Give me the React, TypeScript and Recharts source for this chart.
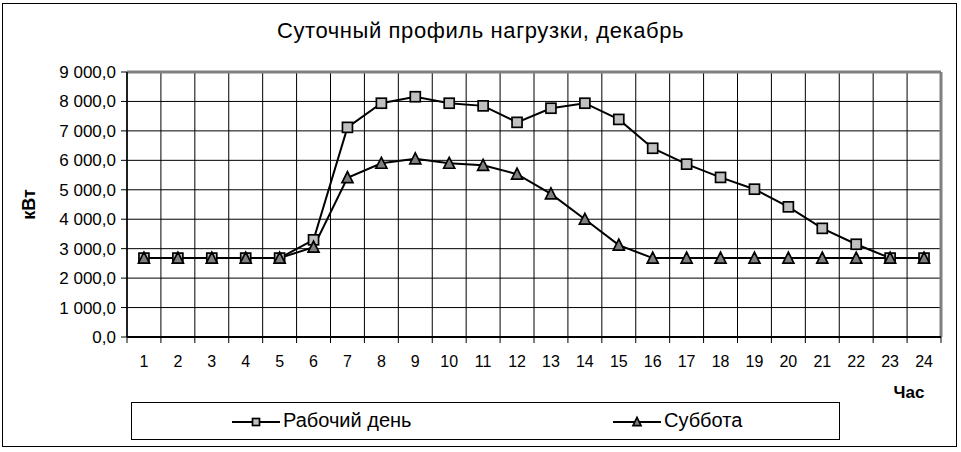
import React from "react";
import {
  LineChart,
  Line,
  XAxis,
  YAxis,
  CartesianGrid,
  ReferenceLine,
} from "recharts";

// Часы суток
const hours = [1, 2, 3, 4, 5, 6, 7, 8, 9, 10, 11, 12, 13, 14, 15, 16, 17, 18, 19, 20, 21, 22, 23, 24];

// Рабочий день, кВт
const workday = [
  2680, 2680, 2680, 2680, 2680, 3300, 7120, 7940, 8160, 7940, 7850, 7290,
  7770, 7940, 7390, 6410, 5870, 5420, 5020, 4420, 3690, 3150, 2680, 2680,
];

// Суббота, кВт
const saturday = [
  2680, 2680, 2680, 2680, 2680, 3050, 5410, 5900, 6050, 5900, 5830, 5530,
  4860, 4000, 3120, 2680, 2680, 2680, 2680, 2680, 2680, 2680, 2680, 2680,
];

const yTicks = [0, 1000, 2000, 3000, 4000, 5000, 6000, 7000, 8000, 9000];
// границы часовых интервалов (сетка и засечки)
const hourBounds = [...hours.map((h) => h - 0.5), hours[hours.length - 1] + 0.5];

const data = hours.map((h, i) => ({ hour: h, work: workday[i], sat: saturday[i] }));

const FONT = "'Liberation Sans', Arial, sans-serif";

const fmt = (v: number) => {
  const s = String(Math.round(v));
  return s.replace(/\B(?=(\d{3})+(?!\d))/g, " ") + ",0";
};

const SquareDot = (props: any) => {
  const { cx, cy, size = 10 } = props;
  if (cx == null || cy == null) return null;
  return (
    <rect
      x={cx - size / 2}
      y={cy - size / 2}
      width={size}
      height={size}
      fill="#c0c0c0"
      stroke="#000"
      strokeWidth={1.7}
    />
  );
};

const TriangleDot = (props: any) => {
  const { cx, cy, size = 11 } = props;
  if (cx == null || cy == null) return null;
  const h = size * 0.9;
  return (
    <polygon
      points={`${cx},${cy - h / 2 - 1} ${cx - size / 2},${cy + h / 2} ${cx + size / 2},${cy + h / 2}`}
      fill="#808080"
      stroke="#000"
      strokeWidth={1.7}
    />
  );
};

const LegendItem = ({ kind, label, left }: { kind: "sq" | "tri"; label: string; left: number }) => (
  <div style={{ position: "absolute", left, top: 6, display: "flex", alignItems: "center" }}>
    <svg width={50} height={22}>
      <line x1={0} y1={12} x2={48} y2={12} stroke="#000" strokeWidth={2} />
      {kind === "sq" ? (
        <SquareDot cx={24} cy={12} size={7} />
      ) : (
        <TriangleDot cx={24} cy={12} size={8} />
      )}
    </svg>
    <span style={{ fontSize: 20, fontFamily: FONT, marginLeft: 1 }}>{label}</span>
  </div>
);

// вертикальные линии сетки по границам часов
const gridVerticals = ({ offset }: any) => {
  const lo = hourBounds[0];
  const hi = hourBounds[hourBounds.length - 1];
  return hourBounds.map((b) => offset.left + ((b - lo) / (hi - lo)) * offset.width);
};

const NoLabel = () => <g />;

export default function App() {
  return (
    <div style={{ position: "absolute", left: 0, top: 0, width: 961, height: 452, background: "#fff", fontFamily: FONT }}>
      <div
        style={{
          position: "absolute",
          left: 2,
          top: 3,
          width: 955,
          height: 444,
          border: "1px solid #000",
          boxSizing: "border-box",
        }}
      />
      <div
        style={{
          position: "absolute",
          left: 0,
          width: 961,
          top: 18,
          textAlign: "center",
          fontSize: 22,
          fontFamily: FONT,
          letterSpacing: 0.6,
        }}
      >
        Суточный профиль нагрузки, декабрь
      </div>

      <LineChart
        width={961}
        height={452}
        data={data}
        margin={{ top: 72, right: 20, left: 0, bottom: 55 }}
        style={{ position: "absolute", left: 0, top: 0 }}
      >
        <CartesianGrid
          xAxisId="grid"
          stroke="#000"
          strokeWidth={1}
          verticalCoordinatesGenerator={gridVerticals}
        />
        <XAxis
          xAxisId="grid"
          dataKey="hour"
          type="number"
          domain={[0.5, 24.5]}
          ticks={hourBounds}
          tick={<NoLabel />}
          tickSize={6}
          height={1}
          axisLine={{ stroke: "#000", strokeWidth: 2 }}
          tickLine={{ stroke: "#000" }}
        />
        <XAxis
          xAxisId="hours"
          dataKey="hour"
          type="number"
          domain={[0.5, 24.5]}
          ticks={hours}
          height={59}
          axisLine={false}
          tickLine={false}
          tickMargin={12}
          tick={{ fontSize: 16, fill: "#000", fontFamily: FONT }}
          label={({ viewBox }: any) => (
            <text
              x={viewBox.x + viewBox.width - 32}
              y={viewBox.y + 60}
              textAnchor="middle"
              fontSize={17}
              fontWeight="bold"
              fontFamily={FONT}
              fill="#000"
            >
              Час
            </text>
          )}
        />
        <YAxis
          domain={[0, 9000]}
          ticks={yTicks}
          width={127}
          tickFormatter={fmt}
          tickSize={6}
          tickMargin={5}
          tick={{ fontSize: 17, fill: "#000", fontFamily: FONT }}
          axisLine={{ stroke: "#000", strokeWidth: 1.5 }}
          tickLine={{ stroke: "#000" }}
          label={({ viewBox }: any) => (
            <text
              x={30}
              y={viewBox.y + viewBox.height / 2}
              transform={`rotate(-90, 30, ${viewBox.y + viewBox.height / 2})`}
              textAnchor="middle"
              dominantBaseline="middle"
              fontSize={18}
              fontWeight="bold"
              fontFamily={FONT}
              fill="#000"
            >
              кВт
            </text>
          )}
        />
        <ReferenceLine xAxisId="grid" y={9000} stroke="#808080" strokeWidth={3} />
        <ReferenceLine xAxisId="grid" x={24.5} stroke="#808080" strokeWidth={3} />
        <Line
          xAxisId="hours"
          dataKey="work"
          stroke="#000"
          strokeWidth={2}
          dot={<SquareDot />}
          activeDot={false}
          isAnimationActive={false}
        />
        <Line
          xAxisId="hours"
          dataKey="sat"
          stroke="#000"
          strokeWidth={2}
          dot={<TriangleDot />}
          activeDot={false}
          isAnimationActive={false}
        />
      </LineChart>

      <div
        style={{
          position: "absolute",
          left: 131,
          top: 402,
          width: 709,
          height: 38,
          border: "1px solid #000",
          boxSizing: "border-box",
        }}
      >
        <LegendItem kind="sq" label="Рабочий день" left={100} />
        <LegendItem kind="tri" label="Суббота" left={481} />
      </div>
    </div>
  );
}
